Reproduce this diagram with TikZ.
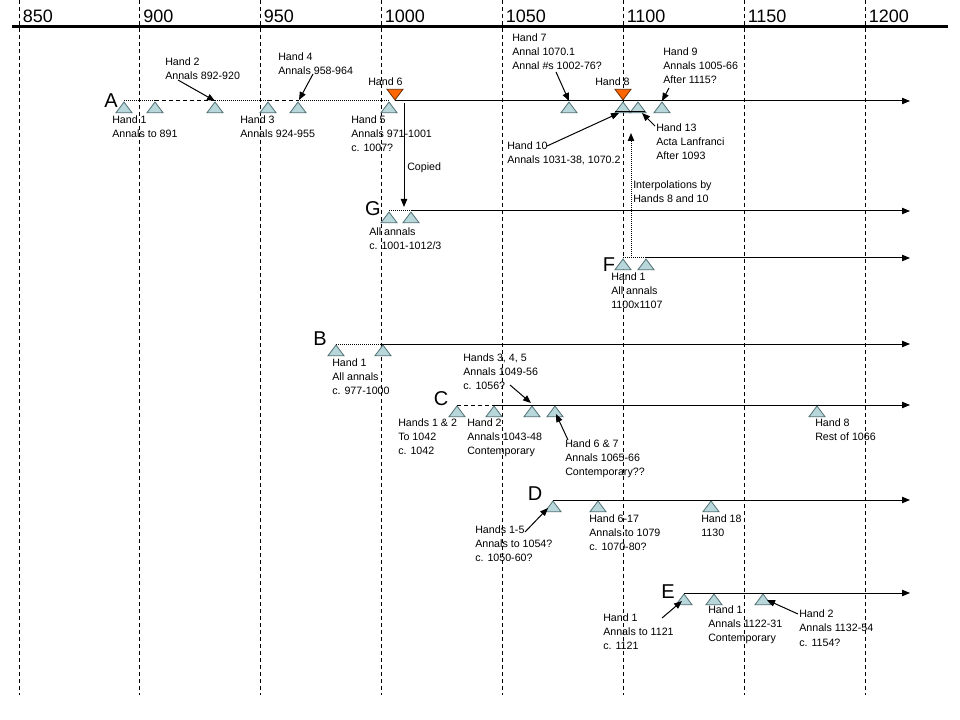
\documentclass[tikz,border=0pt]{standalone}
\usepackage{fontspec}
\setmainfont{Liberation Sans}
\usetikzlibrary{shapes.geometric,arrows.meta}
\definecolor{trifill}{RGB}{183,215,219}
\definecolor{triline}{RGB}{80,110,115}
\definecolor{orfill}{RGB}{255,102,0}
\definecolor{orline}{RGB}{110,45,0}
\begin{document}
\begin{tikzpicture}[x=0.75pt,y=-0.75pt,
  tri/.style={isosceles triangle, isosceles triangle stretches, shape border rotate=90,
    draw=triline, fill=trifill, line width=0.6pt, inner sep=0pt,
    minimum width=12pt, minimum height=8pt, anchor=apex},
  otri/.style={tri, shape border rotate=270, draw=orline, fill=orfill},
  lbl/.style={anchor=north west, inner sep=0pt, align=left, font=\fontsize{8}{10.5}\selectfont},
  big/.style={font=\fontsize{15}{18}\selectfont, inner sep=0pt},
  yr/.style={font=\fontsize{13.5}{16}\selectfont, anchor=west, inner sep=0pt},
  dotl/.style={line width=0.75pt, dash pattern=on 0.75pt off 0.75pt},
  dashl/.style={line width=0.75pt, dash pattern=on 3pt off 2.25pt},
  solidl/.style={line width=0.75pt},
  arr/.style={-{Triangle[length=6pt,width=4.8pt]}, line width=0.75pt},
  gridl/.style={line width=0.75pt, dash pattern=on 3pt off 2.25pt}]
\useasboundingbox (0,0) rectangle (960,720);
\fill[white] (0,0) rectangle (960,720);
% grid
\foreach \gx/\yl in {19/850,139.5/900,260/950,381/1000,502/1050,623/1100,744/1150,865/1200}{
  \draw[gridl] (\gx,0) -- (\gx,695);
  \node[yr] (y\yl) at (\gx+3.5,16.5) {\yl};
}
\draw[line width=2.25pt] (12,27) -- (948,27);

% ---- Row A
\node[big] (lA) at (111,101) {A};
\node[tri] (a1) at (124,101) {};
\node[tri] (a2) at (155,101) {};
\node[tri] (a3) at (215,101) {};
\node[tri] (a4) at (268,101) {};
\node[tri] (a5) at (298,101) {};
\node[tri] (a6) at (389,101) {};
\node[otri] (o6) at (395,101) {};
\node[tri] (a7) at (569,101) {};
\node[tri] (a8) at (623,101) {};
\node[otri] (o8) at (623,101) {};
\node[tri] (a9) at (638,101) {};
\node[tri] (a10) at (662,101) {};
\coordinate (Aend) at (910,101);
\draw[dotl] (a1.apex) -- (a2.apex);
\draw[dashl] (a2.apex) -- (a3.apex);
\draw[dotl] (a3.apex) -- (a4.apex);
\draw[dashl] (a4.apex) -- (a5.apex);
\draw[dotl] (a5.apex) -- (a6.apex);
\draw[arr] (o6.apex) -- (Aend);
\coordinate (bl1) at (615,112);
\coordinate (bl2) at (645,112);
\draw[solidl] (bl1) -- (bl2);

\node[lbl] (t1) at (112,116) {Hand 1\\Annals to 891};
\node[lbl] (t2) at (165,58) {Hand 2\\Annals 892-920};
\node[lbl] (t3) at (240,116) {Hand 3\\Annals 924-955};
\node[lbl] (t4) at (278,53) {Hand 4\\Annals 958-964};
\node[lbl] (t6) at (368,78) {Hand 6};
\node[lbl] (t5) at (351,116) {Hand 5\\Annals 971-1001\\c. 1007?};
\node[lbl] (tcp) at (407,163) {Copied};
\node[lbl] (t7) at (512,34) {Hand 7\\Annal 1070.1\\Annal \#s 1002-76?};
\node[lbl] (t8) at (595,78) {Hand 8};
\node[lbl] (t9) at (663,48) {Hand 9\\Annals 1005-66\\After 1115?};
\node[lbl] (t13) at (656,124) {Hand 13\\Acta Lanfranci\\After 1093};
\node[lbl] (t10) at (507,142) {Hand 10\\Annals 1031-38, 1070.2};
\node[lbl] (tint) at (633,181) {Interpolations by\\Hands 8 and 10};

\coordinate (s2) at (178,80);
\draw[arr] (s2) -- (a3.apex);
\coordinate (s4) at (313,74);
\coordinate (e4) at (299,100);
\draw[arr] (s4) -- (e4);
\coordinate (s7) at (556,72);
\draw[arr] (s7) -- (a7.apex);
\coordinate (s9) at (669,88);
\draw[arr] (s9) -- (a10.apex);
\coordinate (s10) at (547,146);
\coordinate (e10) at (619,113);
\draw[arr] (s10) -- (e10);
\coordinate (s13) at (655,126);
\coordinate (e13) at (642,113);
\draw[arr] (s13) -- (e13);
\coordinate (cpS) at (404,103);
\coordinate (cpE) at (404,207);
\draw[arr] (cpS) -- (cpE);

% ---- Row G
\node[big] (lG) at (373,209) {G};
\node[tri] (g1) at (389,211) {};
\node[tri] (g2) at (411,211) {};
\coordinate (Gend) at (910,211);
\draw[dotl] (g1.apex) -- (g2.apex);
\draw[arr] (g2.apex) -- (Gend);
\node[lbl] (tg) at (369,228) {All annals\\c. 1001-1012/3};

% ---- Row F
\node[big] (lF) at (609,265) {F};
\node[tri] (f1) at (623,258) {};
\node[tri] (f2) at (646,258) {};
\coordinate (Fend) at (910,258);
\draw[dotl] (f1.apex) -- (f2.apex);
\draw[arr] (f2.apex) -- (Fend);
\coordinate (iS) at (631,258);
\coordinate (iE) at (631,133);
\draw[arr, dash pattern=on 0.75pt off 0.75pt] (iS) -- (iE);
\node[lbl] (tf) at (611,273) {Hand 1\\All annals\\1100x1107};

% ---- Row B
\node[big] (lB) at (320,339) {B};
\node[tri] (b1) at (336,344) {};
\node[tri] (b2) at (383,344) {};
\coordinate (Bend) at (910,344);
\draw[dotl] (b1.apex) -- (b2.apex);
\draw[arr] (b2.apex) -- (Bend);
\node[lbl] (tb) at (332,359) {Hand 1\\All annals\\c. 977-1000};

% ---- Row C
\node[big] (lC) at (441,399) {C};
\node[tri] (c1) at (457,405) {};
\node[tri] (c2) at (494,405) {};
\node[tri] (c3) at (532,405) {};
\node[tri] (c4) at (555,405) {};
\node[tri] (c5) at (817,405) {};
\coordinate (Cend) at (910,405);
\draw[dashl] (c1.apex) -- (c2.apex);
\draw[arr] (c2.apex) -- (Cend);
\node[lbl] (tc1) at (398,419) {Hands 1 \& 2\\To 1042\\c. 1042};
\node[lbl] (tc2) at (467,419) {Hand 2\\Annals 1043-48\\Contemporary};
\node[lbl] (tc3) at (463,354) {Hands 3, 4, 5\\Annals 1049-56\\c. 1056?};
\node[lbl] (tc4) at (565,440) {Hand 6 \& 7\\Annals 1065-66\\Contemporary??};
\node[lbl] (tc5) at (815,419) {Hand 8\\Rest of 1066};
\coordinate (sc3) at (510,385);
\coordinate (ec3) at (531,403);
\draw[arr] (sc3) -- (ec3);
\coordinate (sc4) at (568,440);
\coordinate (ec4) at (556,414);
\draw[arr] (sc4) -- (ec4);

% ---- Row D
\node[big] (lD) at (535,494) {D};
\node[tri] (d1) at (553,500) {};
\node[tri] (d2) at (598,500) {};
\node[tri] (d3) at (711,500) {};
\coordinate (Dend) at (910,500);
\draw[arr] (d1.apex) -- (Dend);
\node[lbl] (td1) at (475,526) {Hands 1-5\\Annals to 1054?\\c. 1050-60?};
\node[lbl] (td2) at (589,515) {Hand 6-17\\Annals to 1079\\c. 1070-80?};
\node[lbl] (td3) at (701,515) {Hand 18\\1130};
\coordinate (sd1) at (525,532);
\coordinate (ed1) at (548,508);
\draw[arr] (sd1) -- (ed1);

% ---- Row E
\node[big] (lE) at (668,592) {E};
\node[tri] (e1) at (684,593) {};
\node[tri] (e2) at (714,593) {};
\node[tri] (e3) at (763,593) {};
\coordinate (Eend) at (910,593);
\draw[arr] (e1.apex) -- (Eend);
\node[lbl] (te1) at (603,613) {Hand 1\\Annals to 1121\\c. 1121};
\node[lbl] (te2) at (708,606) {Hand 1\\Annals 1122-31\\Contemporary};
\node[lbl] (te3) at (799,610) {Hand 2\\Annals 1132-54\\c. 1154?};
\coordinate (se1) at (662,618);
\coordinate (ee1) at (682,601);
\draw[arr] (se1) -- (ee1);
\coordinate (se3) at (798,614);
\coordinate (ee3) at (767,600);
\draw[arr] (se3) -- (ee3);
\end{tikzpicture}
\end{document}
